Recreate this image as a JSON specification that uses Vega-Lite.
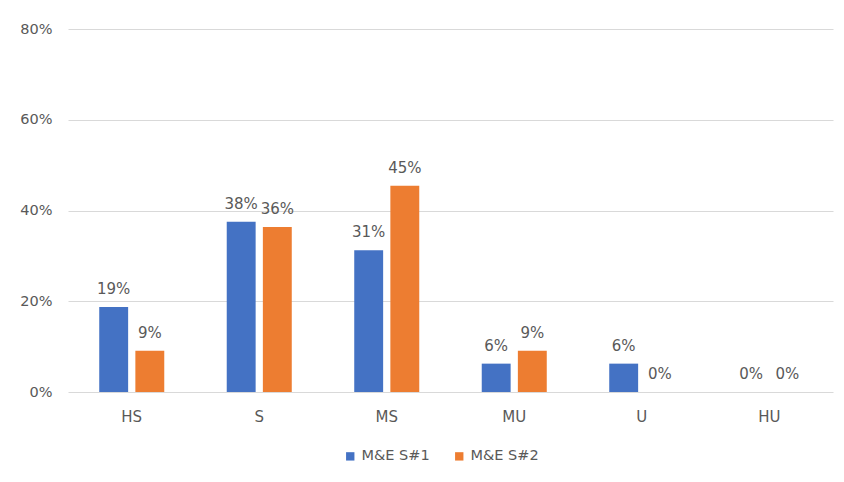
{
  "$schema": "https://vega.github.io/schema/vega-lite/v6.json",
  "width": 765,
  "height": 363,
  "autosize": {"type": "none"},
  "padding": {"left": 68, "top": 29, "right": 11, "bottom": 90},
  "background": "white",
  "data": {
    "values": [
      {"rating": "HS", "series": "M&E S#1", "share": 0.1875},
      {"rating": "HS", "series": "M&E S#2", "share": 0.0909},
      {"rating": "S", "series": "M&E S#1", "share": 0.375},
      {"rating": "S", "series": "M&E S#2", "share": 0.3636},
      {"rating": "MS", "series": "M&E S#1", "share": 0.3125},
      {"rating": "MS", "series": "M&E S#2", "share": 0.4545},
      {"rating": "MU", "series": "M&E S#1", "share": 0.0625},
      {"rating": "MU", "series": "M&E S#2", "share": 0.0909},
      {"rating": "U", "series": "M&E S#1", "share": 0.0625},
      {"rating": "U", "series": "M&E S#2", "share": 0},
      {"rating": "HU", "series": "M&E S#1", "share": 0},
      {"rating": "HU", "series": "M&E S#2", "share": 0}
    ]
  },
  "encoding": {
    "x": {
      "field": "rating",
      "type": "nominal",
      "sort": ["HS", "S", "MS", "MU", "U", "HU"],
      "scale": {"paddingInner": 0.49, "paddingOuter": 0.245},
      "axis": {
        "title": null,
        "labelAngle": 0,
        "domain": false,
        "ticks": false,
        "labelPadding": 17,
        "labelFont": "DejaVu Sans",
        "labelFontSize": 15,
        "labelColor": "#595959"
      }
    },
    "xOffset": {
      "field": "series",
      "type": "nominal",
      "scale": {"paddingInner": 0.2, "paddingOuter": 0}
    },
    "y": {
      "field": "share",
      "type": "quantitative",
      "scale": {"domain": [0, 0.8], "nice": false},
      "axis": {
        "title": null,
        "format": ".0%",
        "values": [0, 0.2, 0.4, 0.6, 0.8],
        "domain": false,
        "ticks": false,
        "labelPadding": 16,
        "labelFont": "DejaVu Sans",
        "labelFontSize": 14.5,
        "labelColor": "#595959",
        "gridColor": "#d9d9d9",
        "gridWidth": 1
      }
    }
  },
  "layer": [
    {
      "mark": {"type": "bar"},
      "encoding": {
        "color": {
          "field": "series",
          "type": "nominal",
          "scale": {"domain": ["M&E S#1", "M&E S#2"], "range": ["#4472c4", "#ed7d31"]},
          "legend": {
            "title": null,
            "orient": "none",
            "direction": "horizontal",
            "legendX": 275,
            "legendY": 420,
            "symbolType": "square",
            "symbolSize": 70,
            "symbolStrokeWidth": 0,
            "symbolOpacity": 1,
            "labelFont": "DejaVu Sans",
            "labelFontSize": 14.5,
            "labelColor": "#595959",
            "labelOffset": 4,
            "columnPadding": 22,
            "padding": 0
          }
        }
      }
    },
    {
      "mark": {
        "type": "text",
        "baseline": "alphabetic",
        "dy": -13,
        "font": "DejaVu Sans",
        "fontSize": 15,
        "color": "#595959"
      },
      "encoding": {
        "text": {"field": "share", "type": "quantitative", "format": ".0%"}
      }
    }
  ],
  "config": {
    "view": {"stroke": null}
  }
}
